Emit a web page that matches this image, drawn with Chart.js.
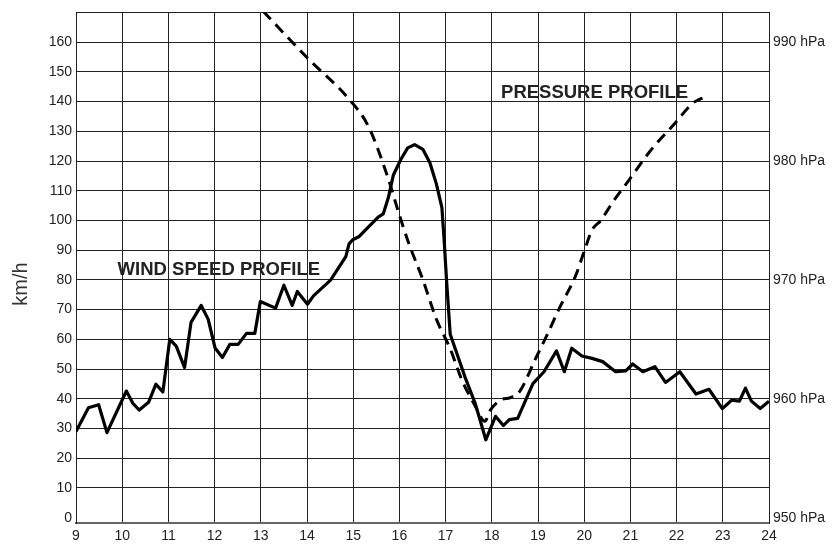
<!DOCTYPE html>
<html>
<head>
<meta charset="utf-8">
<script src="https://cdn.jsdelivr.net/npm/chart.js@4.4.1/dist/chart.umd.min.js"></script>
<style>
  html, body { margin: 0; padding: 0; background: #fff; }
  #wrap { width: 840px; height: 547px; }
</style>
</head>
<body>
<div id="wrap"><canvas id="chart" width="840" height="547"></canvas></div>
<script>
// --- data ---
const hourTicks = [9, 10, 11, 12, 13, 14, 15, 16, 17, 18, 19, 20, 21, 22, 23, 24];
const kmhTicks = [0, 10, 20, 30, 40, 50, 60, 70, 80, 90, 100, 110, 120, 130, 140, 150, 160];
const hpaTicks = [950, 960, 970, 980, 990];

const windHours = [
  9.0, 9.27, 9.49, 9.67, 10.09, 10.23, 10.37, 10.57, 10.73, 10.88,
  11.03, 11.17, 11.35, 11.49, 11.71, 11.86, 12.01, 12.17, 12.33, 12.51,
  12.69, 12.87, 12.99, 13.32, 13.5, 13.68, 13.79, 14.01, 14.14, 14.51,
  14.84, 14.91, 14.99, 15.13, 15.54, 15.65, 15.76, 15.87, 16.03, 16.18,
  16.33, 16.51, 16.66, 16.8, 16.92, 16.97, 17.02, 17.1, 17.42, 17.64,
  17.87, 18.08, 18.25, 18.38, 18.56, 18.89, 19.13, 19.4, 19.57, 19.73,
  19.95, 20.17, 20.4, 20.68, 20.9, 21.05, 21.27, 21.53, 21.76, 22.07,
  22.42, 22.7, 22.99, 23.19, 23.36, 23.49, 23.62, 23.81, 24.0
];
const windKmh = [
  29, 37, 38, 28.6, 42.6, 38.5, 36.2, 38.8, 44.9, 42.3,
  60, 57.7, 50.5, 65.7, 71.4, 66.8, 57.1, 53.9, 58.3, 58.3,
  62, 62, 72.7, 70.5, 78.2, 71.4, 76.1, 71.8, 74.6, 79.9,
  87.8, 92.1, 93.5, 94.6, 101.1, 102.2, 107.6, 115.3, 120.5, 124.4,
  125.5, 123.9, 119.4, 112.3, 104.3, 93, 80, 61.7, 47.3, 38.5,
  26.2, 34.1, 31, 33, 33.4, 45.1, 49.1, 56.1, 49.1, 57,
  54.4, 53.6, 52.5, 49.1, 49.4, 51.7, 49.1, 50.8, 45.5, 49.1,
  41.6, 43.2, 36.7, 39.5, 39.2, 43.6, 39.2, 36.7, 39.2
];

const pressureHours = [
  13.05, 14.0, 14.91, 15.33, 15.76, 15.98, 16.21, 16.5, 16.8, 17.1,
  17.35, 17.64, 17.85, 17.96, 18.2, 18.4, 18.6, 18.95, 19.2, 19.46,
  19.82, 20.0, 20.17, 20.36, 20.61, 20.97, 21.42, 21.97, 22.36, 22.56
];
const pressureHpa = [
  992.6, 988.7, 985.2, 982.9, 978.5, 975.7, 973.0, 970.1, 966.7, 964.2,
  961.6, 959.4, 958.1, 959.0, 959.9, 960.1, 960.6, 963.4, 965.4, 967.6,
  970.4, 972.4, 974.2, 975.0, 976.5, 978.4, 980.8, 983.2, 984.9, 985.3
];

const FONT = "'Liberation Sans', Arial, Helvetica, sans-serif";
const INK = '#222';

// texts drawn on the plot (km/h title + the two profile labels)
const textPlugin = {
  id: 'profileText',
  afterDatasetsDraw(chart) {
    const { ctx, scales } = chart;
    const x = scales.x, y = scales.y;
    ctx.save();
    ctx.fillStyle = INK;
    ctx.font = `bold 18.5px ${FONT}`;
    ctx.textAlign = 'left';
    ctx.textBaseline = 'alphabetic';
    ctx.fillText('WIND SPEED PROFILE', x.getPixelForValue(9.9), y.getPixelForValue(81.5));
    ctx.fillText('PRESSURE PROFILE', x.getPixelForValue(18.2), y.getPixelForValue(141.3));

    // axis title
    ctx.font = `20px ${FONT}`;
    ctx.fillStyle = '#333';
    ctx.translate(26.5, 284);
    ctx.rotate(-Math.PI / 2);
    ctx.textAlign = 'center';
    ctx.fillText('km/h', 0, 0);
    ctx.restore();
  }
};

new Chart(document.getElementById('chart'), {
  type: 'line',
  data: {
    datasets: [
      {
        label: 'Wind speed',
        yAxisID: 'y',
        data: windHours.map((h, i) => ({ x: h, y: windKmh[i] })),
        borderColor: '#000',
        borderWidth: 3.2,
        pointRadius: 0,
        tension: 0,
        borderJoinStyle: 'round',
        fill: false
      },
      {
        label: 'Pressure',
        yAxisID: 'yp',
        data: pressureHours.map((h, i) => ({ x: h, y: pressureHpa[i] })),
        borderColor: '#000',
        borderWidth: 3,
        borderDash: [11, 7],
        pointRadius: 0,
        cubicInterpolationMode: 'monotone',
        clip: 0,
        fill: false
      }
    ]
  },
  options: {
    responsive: false,
    animation: false,
    layout: { padding: { top: 6, left: 0, right: 0, bottom: 0 } },
    plugins: { legend: { display: false }, tooltip: { enabled: false } },
    scales: {
      x: {
        type: 'linear',
        min: 9,
        max: 24,
        afterBuildTicks: s => { s.ticks = hourTicks.map(v => ({ value: v })); },
        afterFit: s => { s.height = 24; },
        grid: { color: INK, lineWidth: 1, drawTicks: false },
        border: { color: '#666', width: 2 },
        ticks: { color: INK, padding: 5, font: { family: FONT, size: 14 } }
      },
      y: {
        type: 'linear',
        position: 'left',
        min: -1.8,
        max: 170,
        afterBuildTicks: s => { s.ticks = kmhTicks.concat([170]).map(v => ({ value: v })); },
        afterFit: s => { s.width = 76; },
        grid: {
          drawTicks: false,
          lineWidth: 1,
          color: c => (c.tick && c.tick.value === 0 ? 'rgba(0,0,0,0)' : INK)
        },
        border: { color: INK, width: 1 },
        ticks: {
          color: INK,
          padding: 4,
          font: { family: FONT, size: 14 },
          callback: v => (v === 170 ? '' : v)
        }
      },
      yp: {
        type: 'linear',
        position: 'right',
        min: 950 + (-1.8) / 4,
        max: 950 + 170 / 4,
        afterBuildTicks: s => { s.ticks = hpaTicks.map(v => ({ value: v })); },
        afterFit: s => { s.width = 71; },
        grid: { drawOnChartArea: false, drawTicks: false },
        border: { color: INK, width: 1 },
        ticks: {
          color: INK,
          padding: 4,
          font: { family: FONT, size: 14 },
          callback: v => v + ' hPa'
        }
      }
    }
  },
  plugins: [textPlugin]
});
</script>
</body>
</html>
